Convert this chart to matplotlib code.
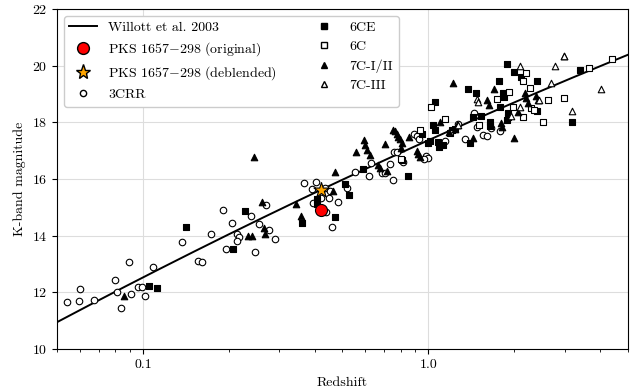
import matplotlib
matplotlib.use("Agg")
import matplotlib.pyplot as plt
import numpy as np
from matplotlib.lines import Line2D

plt.rcParams['font.family'] = 'serif'
plt.rcParams['font.serif'] = ['cmr10']
plt.rcParams['mathtext.fontset'] = 'cm'
plt.rcParams['axes.formatter.use_mathtext'] = True

# ---- data ----
threecrr_z = [0.054, 0.0597, 0.060, 0.0672, 0.0796, 0.0896, 0.0813, 0.091, 0.0839, 0.096, 0.0992, 0.1019,
              0.1084, 0.1369, 0.1558, 0.1609, 0.1738, 0.1914, 0.2053, 0.1952, 0.2143, 0.2178, 0.2143, 0.2387,
              0.2465, 0.270, 0.2551, 0.2766, 0.2897, 0.3667, 0.405, 0.3922, 0.4344, 0.4533, 0.5173, 0.4216,
              0.4475, 0.4825, 0.3934, 0.4368, 0.4607, 0.5531, 0.6191, 0.6292, 0.6859, 0.7043, 0.7495, 0.7333,
              0.7592, 0.7741, 0.8164, 0.8899, 0.9117, 0.9264, 0.9779, 0.9986, 0.9669, 1.142, 1.271, 1.446,
              1.482, 1.651, 1.779, 1.555, 1.606, 1.342]
threecrr_k = [11.65, 11.71, 12.11, 11.75, 12.44, 13.06, 12.01, 11.94, 11.46, 12.20, 12.20, 11.88,
              12.91, 13.77, 13.12, 13.08, 14.05, 14.91, 14.46, 13.55, 14.08, 13.96, 13.82, 14.71,
              13.41, 15.09, 14.42, 14.20, 13.88, 15.85, 15.91, 15.65, 15.67, 15.58, 15.67, 15.34,
              15.32, 15.20, 15.14, 14.83, 14.32, 16.26, 16.12, 16.56, 16.21, 16.20, 15.97, 16.54,
              16.94, 16.94, 16.61, 17.60, 17.53, 17.40, 16.81, 16.73, 16.70, 17.34, 17.94, 18.32,
              17.83, 17.81, 17.71, 17.55, 17.52, 17.41]

sixce_z = [0.1052, 0.1119, 0.141, 0.2065, 0.2286, 0.4063, 0.4063, 0.3608, 0.4709, 0.5116, 0.5271, 0.5899,
           0.8059, 0.8478, 0.9467, 1.051, 1.039, 1.054, 1.012, 0.998, 1.082, 1.091, 1.127, 1.206, 1.238,
           1.371, 1.463, 1.435, 1.527, 1.397, 1.641, 1.641, 1.769, 1.827, 1.842, 1.779, 1.887, 1.991,
           2.119, 2.398, 1.903, 1.903, 1.887, 2.403, 3.389, 3.196]
sixce_k = [12.23, 12.16, 14.31, 13.55, 14.87, 15.30, 15.12, 14.44, 14.67, 15.81, 15.44, 16.34,
           16.66, 16.11, 17.58, 18.72, 17.91, 17.73, 17.34, 17.26, 17.32, 17.14, 17.20, 17.73, 17.77,
           19.17, 19.05, 18.18, 18.23, 17.26, 18.02, 17.88, 19.45, 19.05, 18.89, 18.55, 20.06, 19.79,
           19.61, 19.46, 18.32, 18.18, 18.08, 18.40, 19.85, 18.01]

sixc_z = [1.023, 1.139, 0.934, 0.801, 1.189, 2.194, 2.146, 1.918, 2.265, 1.740, 1.981, 2.146, 2.297,
          2.339, 1.502, 2.626, 2.980, 2.522, 3.653, 4.411]
sixc_k = [18.53, 18.11, 17.73, 16.70, 17.64, 19.73, 19.46, 19.08, 19.20, 18.81, 18.55, 18.20, 18.50,
          18.44, 17.91, 18.79, 18.87, 18.02, 19.93, 20.22]

sevenc12_z = [0.086, 0.233, 0.2413, 0.2457, 0.2615, 0.2651, 0.2685, 0.343, 0.358, 0.4644, 0.472, 0.5586,
              0.5946, 0.598, 0.6077, 0.624, 0.6686, 0.677, 0.7043, 0.7176, 0.7531, 0.7634, 0.7741, 0.7842,
              0.7949, 0.8059, 0.8013, 0.8524, 0.9117, 0.919, 0.9339, 1.097, 1.18, 1.222, 1.695, 1.606,
              1.632, 2.176, 2.206, 2.229, 2.378, 2.423, 2.062, 1.789, 1.804, 1.255, 1.235, 1.435, 1.996, 2.980]
sevenc12_k = [11.88, 13.99, 13.99, 16.79, 15.19, 14.28, 14.05, 15.13, 14.71, 15.58, 16.24, 16.94,
              17.38, 17.19, 17.02, 16.85, 16.51, 16.38, 17.23, 16.29, 17.73, 17.70, 17.59, 17.49,
              17.40, 17.26, 17.11, 17.47, 17.00, 16.88, 16.79, 18.00, 17.67, 19.40, 19.18, 18.79,
              18.61, 19.03, 18.85, 18.67, 18.93, 18.79, 18.38, 17.97, 17.83, 17.91, 17.76, 17.44, 17.46, 20.35]

sevenc3_z = [2.099, 1.475, 1.494, 1.271, 1.944, 2.090, 2.431, 2.772, 2.980, 2.698, 4.031, 3.185]
sevenc3_k = [19.98, 18.81, 18.73, 17.91, 18.23, 18.55, 18.79, 20.00, 20.35, 19.40, 19.18, 18.40]

pks_z = 0.419
pks_k_orig = 14.90
pks_k_deb = 15.60

# Willott et al. 2003 K-z relation coefficients
willott_coef = [17.37, 4.53, -0.31]

xticks = [0.1, 1.0]
xticklabels = ['0.1', '1.0']
yticks = [10, 12, 14, 16, 18, 20, 22]

# ---- figure ----
fig = plt.figure(figsize=(6.33, 3.91), dpi=100)
ax = fig.add_axes([0.090, 0.107, 0.902, 0.870])

zz = np.logspace(np.log10(0.05), np.log10(5.0), 300)
lz = np.log10(zz)
kk = willott_coef[0] + willott_coef[1] * lz + willott_coef[2] * lz ** 2
ax.plot(zz, kk, color='black', lw=1.4, zorder=2)

ms = 22
lw = 0.8
ax.scatter(threecrr_z, threecrr_k, s=ms, marker='o', facecolors='white', edgecolors='black', linewidths=lw, zorder=3)
ax.scatter(sixce_z, sixce_k, s=ms, marker='s', facecolors='black', edgecolors='black', linewidths=lw, zorder=3)
ax.scatter(sixc_z, sixc_k, s=ms, marker='s', facecolors='white', edgecolors='black', linewidths=lw, zorder=3)
ax.scatter(sevenc12_z, sevenc12_k, s=ms, marker='^', facecolors='black', edgecolors='black', linewidths=lw, zorder=3)
ax.scatter(sevenc3_z, sevenc3_k, s=ms, marker='^', facecolors='white', edgecolors='black', linewidths=lw, zorder=3)
ax.scatter([pks_z], [pks_k_orig], s=75, marker='o', facecolors='red', edgecolors='black', linewidths=0.8, zorder=5)
ax.scatter([pks_z], [pks_k_deb], s=130, marker='*', facecolors='orange', edgecolors='black', linewidths=0.8, zorder=5)

ax.set_xscale('log')
ax.set_xlim(0.05, 5.0)
ax.set_ylim(10, 22)
ax.set_xticks(xticks)
ax.set_xticklabels(xticklabels)
ax.set_yticks(yticks)
ax.grid(True, which='major', color='#dddddd', lw=0.8, zorder=0)
ax.set_axisbelow(True)
ax.tick_params(which='both', direction='out', labelsize=10)
ax.set_xlabel('Redshift', fontsize=10)
ax.set_ylabel('K-band magnitude', fontsize=10)

handles = [
    Line2D([], [], color='black', lw=1.4),
    Line2D([], [], marker='o', ls='none', mfc='red', mec='black', ms=8.5),
    Line2D([], [], marker='*', ls='none', mfc='orange', mec='black', ms=11),
    Line2D([], [], marker='o', ls='none', mfc='white', mec='black', ms=4.5),
    Line2D([], [], marker='s', ls='none', mfc='black', mec='black', ms=4.5),
    Line2D([], [], marker='s', ls='none', mfc='white', mec='black', ms=4.5),
    Line2D([], [], marker='^', ls='none', mfc='black', mec='black', ms=4.5),
    Line2D([], [], marker='^', ls='none', mfc='white', mec='black', ms=4.5),
]
labels = ['Willott et al. 2003', r'PKS 1657$-$298 (original)', r'PKS 1657$-$298 (deblended)', '3CRR',
          '6CE', '6C', '7C-I/II', '7C-III']
ax.legend(handles, labels, loc='upper left', ncol=2, fontsize=10, columnspacing=2.4,
          labelspacing=0.45, framealpha=1, edgecolor='#cccccc')

fig.savefig('out.png', dpi=100)
